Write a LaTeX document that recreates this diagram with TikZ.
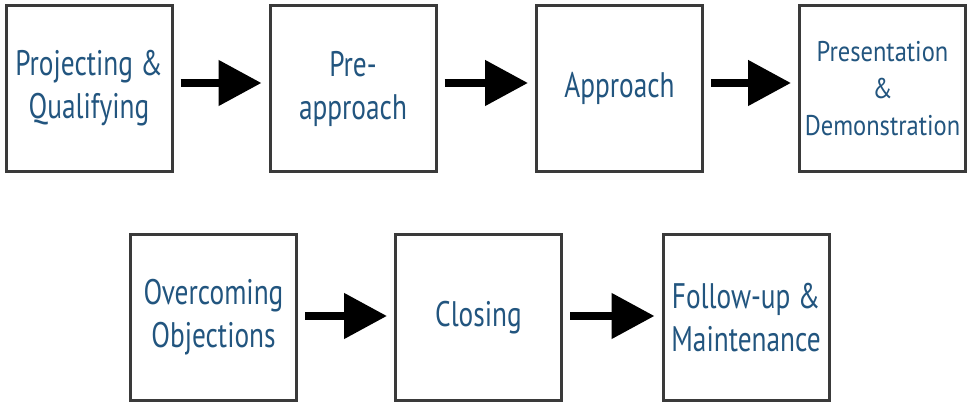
\documentclass[tikz,border=0pt]{standalone}
\usepackage{fontspec}
\setmainfont[FakeStretch=0.77]{PT Sans}
\newfontfamily\demofont[FakeStretch=0.86]{PT Sans}
\usetikzlibrary{arrows.meta}
\definecolor{txtblue}{HTML}{22557F}
\definecolor{boxline}{HTML}{3A3A3A}
\tikzset{
  stepbox/.style={draw=boxline, line width=3pt, fill=white, minimum width=166pt, minimum height=166pt,
    align=center, text=txtblue, font=\fontsize{35.5}{43}\selectfont, inner sep=0pt},
  smallbox/.style={stepbox, font=\demofont\fontsize{28.5}{37}\selectfont},
  flowarrow/.style={line width=8pt, -{Triangle[length=43pt,width=44pt]}, shorten <=7pt, shorten >=7pt}
}
\begin{document}
\begin{tikzpicture}[x=1pt,y=1pt]
\useasboundingbox (0,0) rectangle (970,403);
\node[stepbox] (b1) at (89,314.5) {Projecting \&\\Qualifying};
\node[stepbox] (b2) at (353,314.5) {Pre-\\approach};
\node[stepbox] (b3) at (619.5,314.5) {Approach};
\node[smallbox] (b4) at (882.5,314.5) {Presentation\\\&\\Demonstration};
\node[stepbox] (b5) at (213.5,85.5) {Overcoming\\Objections};
\node[stepbox] (b6) at (478.5,85.5) {Closing};
\node[stepbox] (b7) at (746,85.5) {Follow-up \&\\Maintenance};
\draw[flowarrow] ([yshift=5.5pt]b1.east) -- ([yshift=5.5pt]b2.west);
\draw[flowarrow] ([yshift=5.5pt]b2.east) -- ([yshift=5.5pt]b3.west);
\draw[flowarrow] ([yshift=5.5pt]b3.east) -- ([yshift=5.5pt]b4.west);
\draw[flowarrow] ([yshift=1.5pt]b5.east) -- ([yshift=1.5pt]b6.west);
\draw[flowarrow] ([yshift=1.5pt]b6.east) -- ([yshift=1.5pt]b7.west);
\end{tikzpicture}
\end{document}
